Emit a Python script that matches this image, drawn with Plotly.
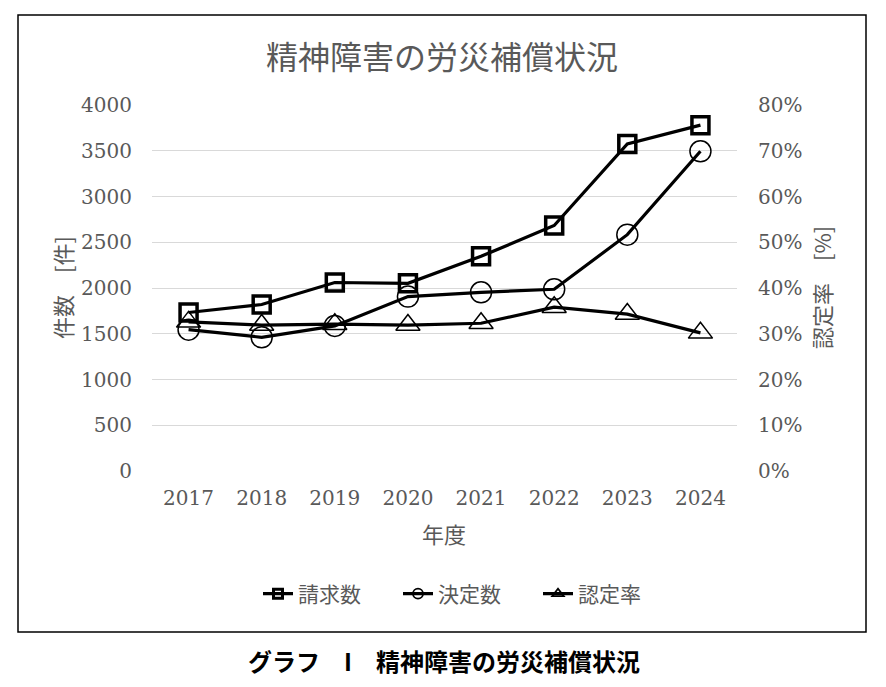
import plotly.graph_objects as go

years = ["2017", "2018", "2019", "2020", "2021", "2022", "2023", "2024"]
claims = [1732, 1820, 2060, 2051, 2346, 2683, 3575, 3780]
decisions = [1545, 1461, 1586, 1906, 1953, 1986, 2583, 3494]
rate = [0.326, 0.319, 0.321, 0.319, 0.323, 0.358, 0.343, 0.302]

FONT = "DejaVu Serif, Noto Sans CJK JP, serif"
JFONT = "Noto Sans CJK JP"
GRAY = "#595959"

series = [
    ("請求数", claims, "y", "square-open", 17, 3.5, 9, 3),
    ("決定数", decisions, "y", "circle-open", 21, 1.5, 10, 1.8),
    ("認定率", rate, "y2", "triangle-up-open", 21, 1.5, 10, 1.8),
]

fig = go.Figure()
for name, vals, ax, sym, size, lw, lsize, llw in series:
    fig.add_trace(go.Scatter(x=years, y=vals, name=name, mode="lines+markers", yaxis=ax,
                             showlegend=False,
                             line=dict(color="black", width=3.2),
                             marker=dict(symbol=sym, size=size, color="black",
                                         line=dict(color="black", width=lw))))
for name, vals, ax, sym, size, lw, lsize, llw in series:
    fig.add_trace(go.Scatter(x=[None], y=[None], name=name, mode="lines+markers", yaxis=ax,
                             showlegend=True,
                             line=dict(color="black", width=3.2),
                             marker=dict(symbol=sym, size=lsize, color="black",
                                         line=dict(color="black", width=llw))))

def ry(py):
    return (471 - py) / 366

def rx(px):
    return (px - 152) / 585

fig.update_layout(
    width=878, height=679,
    margin=dict(l=144, r=149, t=97, b=216),
    paper_bgcolor="white", plot_bgcolor="white",
    font=dict(family=FONT, color=GRAY, size=20),
    showlegend=True,
    legend=dict(orientation="h", x=rx(258), xanchor="left", y=ry(594), yanchor="middle",
                font=dict(family=JFONT, size=21, color=GRAY),
                entrywidth=95, entrywidthmode="pixels",
                traceorder="normal", tracegroupgap=0),
    xaxis=dict(type="category", range=[-0.5, 7.5], showgrid=False, zeroline=False,
               showline=False, ticks="", automargin=False, ticklabelstandoff=13,
               tickfont=dict(size=20, color=GRAY, family=FONT)),
    yaxis=dict(range=[0, 4000], dtick=500, showgrid=True, gridcolor="#d9d9d9",
               gridwidth=1.3, zeroline=False, showline=False, ticks="",
               automargin=False, ticklabelstandoff=19,
               tickfont=dict(size=20, color=GRAY, family=FONT)),
    yaxis2=dict(range=[0, 0.8], dtick=0.1, tickformat=".0%", overlaying="y", side="right",
                showgrid=False, zeroline=False, showline=False, ticks="",
                automargin=False, ticklabelstandoff=20,
                tickfont=dict(size=20, color=GRAY, family=FONT)),
)

fig.add_shape(type="rect", xref="paper", yref="paper",
              x0=rx(18), x1=rx(866), y0=ry(632), y1=ry(15),
              line=dict(color="black", width=1.5), layer="below")

def ann(text, px, py, size, color=GRAY, angle=0):
    fig.add_annotation(text=text, xref="paper", yref="paper", x=rx(px), y=ry(py),
                       xanchor="center", yanchor="middle", showarrow=False,
                       textangle=angle, font=dict(family=JFONT, size=size, color=color))

ann("精神障害の労災補償状況", 442, 55, 32)
ann("年度", 444, 533, 22)
ann("件数　[件]", 62, 288, 22, angle=-90)
ann("認定率　[%]", 821, 288, 22, angle=-90)
ann("<b>グラフ　I　精神障害の労災補償状況</b>", 444, 660, 24, color="black")

fig.write_html("out.html")
